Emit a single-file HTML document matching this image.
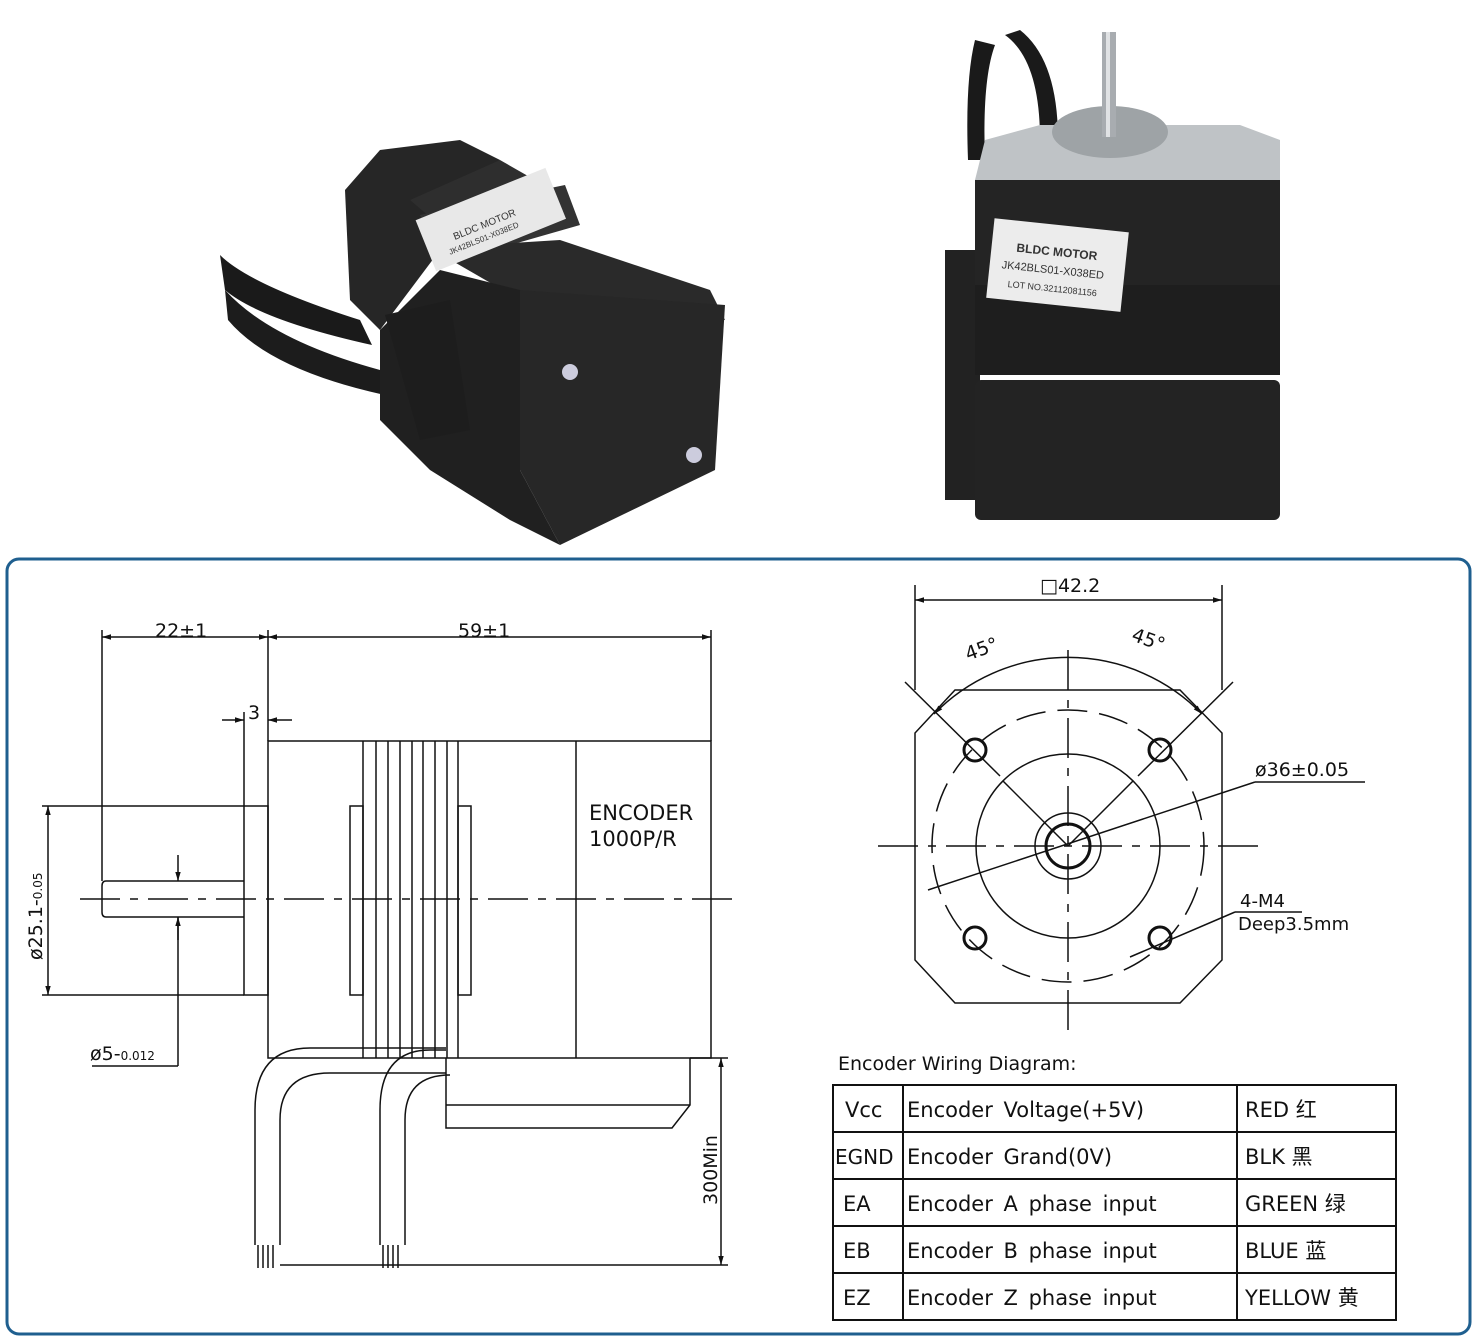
<!DOCTYPE html>
<html><head><meta charset="utf-8"><style>
html,body{margin:0;padding:0;background:#fff;}
svg{display:block;font-family:"Liberation Sans","Noto Sans CJK SC",sans-serif;}
.t{font-family:"DejaVu Sans","Liberation Sans","Noto Sans CJK SC",sans-serif;}
</style></head><body>
<svg width="1478" height="1339" viewBox="0 0 1478 1339" xmlns="http://www.w3.org/2000/svg">
<defs>
<marker id="a" viewBox="0 0 10 10" refX="10" refY="5" markerWidth="9" markerHeight="6" orient="auto-start-reverse"><path d="M0,2 L10,5 L0,8 Z" fill="#111"/></marker>
</defs>
<rect width="1478" height="1339" fill="#fff"/>
<!-- Left photo motor -->
<g>
<path d="M220,255 Q250,285 360,320 L372,345 Q260,320 225,290 Z" fill="#1a1a1a"/>
<path d="M225,290 Q270,340 380,370 L385,395 Q270,370 228,320 Z" fill="#1c1c1c"/>
<polygon points="345,190 380,150 460,140 500,160 440,250 380,330 350,300" fill="#262626"/>
<polygon points="410,200 500,160 570,200 480,260" fill="#2e2e2e"/>
<polygon points="420,215 565,185 580,225 440,265" fill="#333"/>
<polygon points="430,248 560,240 710,290 725,320 520,300" fill="#2a2a2a"/>
<polygon points="520,290 725,305 715,470 560,545 520,470" fill="#272727"/>
<polygon points="380,330 440,270 520,290 520,470 560,545 510,520 430,470 380,420" fill="#202020"/>
<polygon points="385,315 450,300 470,430 420,440" fill="#1d1d1d"/>
<rect x="421" y="192" width="140" height="55" fill="#e8e8e8" transform="rotate(-22 491 220)"/>
<text x="450" y="225" font-size="10" fill="#333" transform="rotate(-22 491 220)">BLDC MOTOR</text>
<text x="440" y="237" font-size="8" fill="#333" transform="rotate(-22 491 220)">JK42BLS01-X038ED</text>
<circle cx="570" cy="372" r="8" fill="#ccd"/><circle cx="694" cy="455" r="8" fill="#ccd"/>
</g>
<!-- Right photo motor -->
<g>
<path d="M975,40 Q965,80 968,160 L985,160 Q982,80 995,45 Z" fill="#1a1a1a"/>
<path d="M1005,35 Q1040,60 1040,140 L1058,140 Q1058,60 1020,30 Z" fill="#1a1a1a"/>
<polygon points="985,140 1040,125 1240,125 1280,140 1280,180 975,180" fill="#bfc3c6"/>
<ellipse cx="1110" cy="132" rx="58" ry="26" fill="#9ea3a6"/>
<rect x="1102" y="32" width="14" height="105" fill="#a8acb0"/>
<rect x="1106" y="32" width="4" height="105" fill="#e0e2e4"/>
<rect x="945" y="250" width="35" height="250" fill="#222"/>
<rect x="975" y="180" width="305" height="105" fill="#242424"/>
<rect x="975" y="285" width="305" height="90" fill="#1e1e1e"/>
<rect x="975" y="380" width="305" height="140" rx="6" fill="#232323"/>
<rect x="990" y="225" width="135" height="80" fill="#ececec" transform="rotate(6 1057 265)"/>
<text x="1015" y="256" font-size="12" font-weight="bold" fill="#333" transform="rotate(6 1057 265)">BLDC MOTOR</text>
<text x="1002" y="274" font-size="11" fill="#333" transform="rotate(6 1057 265)">JK42BLS01-X038ED</text>
<text x="1010" y="292" font-size="9" fill="#333" transform="rotate(6 1057 265)">LOT NO.32112081156</text>
</g>
<!-- Border -->
<rect x="7" y="559" width="1463" height="775" rx="12" fill="none" stroke="#1f5f8f" stroke-width="3"/>
<g fill="none" stroke="#111" stroke-width="1.5">
<line x1="102" y1="630" x2="102" y2="881"/>
<line x1="268" y1="630" x2="268" y2="741"/>
<line x1="711" y1="630" x2="711" y2="741"/>
<line x1="102" y1="637" x2="268" y2="637" marker-start="url(#a)" marker-end="url(#a)"/>
<line x1="268" y1="637" x2="711" y2="637" marker-start="url(#a)" marker-end="url(#a)"/>
<line x1="244" y1="712" x2="244" y2="806"/>
<line x1="222" y1="720" x2="244" y2="720" marker-end="url(#a)"/>
<line x1="292" y1="720" x2="268" y2="720" marker-end="url(#a)"/>
<rect x="268" y="741" width="443" height="317"/>
<rect x="244" y="806" width="24" height="189"/>
<path d="M244,881 L106,881 Q102,881 102,886 L102,912 Q102,917 106,917 L244,917"/>
<line x1="576" y1="741" x2="576" y2="1058"/>
<line x1="363" y1="741" x2="363" y2="1058"/>
<line x1="376" y1="741" x2="376" y2="1058"/>
<line x1="388" y1="741" x2="388" y2="1058"/>
<line x1="400" y1="741" x2="400" y2="1058"/>
<line x1="412" y1="741" x2="412" y2="1058"/>
<line x1="423" y1="741" x2="423" y2="1058"/>
<line x1="435" y1="741" x2="435" y2="1058"/>
<line x1="447" y1="741" x2="447" y2="1058"/>
<line x1="458" y1="741" x2="458" y2="1058"/>
<rect x="350" y="806" width="13" height="189"/>
<rect x="458" y="806" width="13" height="189"/>
<line x1="80" y1="899" x2="740" y2="899" stroke-dasharray="40,10,8,10"/>
<line x1="42" y1="806" x2="244" y2="806"/>
<line x1="42" y1="995" x2="244" y2="995"/>
<line x1="48" y1="806" x2="48" y2="995" marker-start="url(#a)" marker-end="url(#a)"/>
<line x1="178" y1="855" x2="178" y2="881" marker-end="url(#a)"/>
<line x1="178" y1="917" x2="178" y2="1066"/>
<line x1="178" y1="940" x2="178" y2="917" marker-end="url(#a)"/>
<line x1="92" y1="1066" x2="178" y2="1066"/>
<path d="M446,1058 L446,1128 L672,1128 L690,1105 L690,1058"/>
<line x1="446" y1="1105" x2="690" y2="1105"/>
<path d="M446,1048 L310,1048 Q255,1048 255,1110 L255,1245"/>
<path d="M446,1073 L330,1073 Q280,1073 280,1120 L280,1245"/>
<path d="M446,1050 L430,1050 Q380,1050 380,1110 L380,1245"/>
<path d="M446,1075 L450,1075 Q405,1075 405,1120 L405,1245"/>
<path d="M258,1245 L258,1268 M263,1245 L263,1268 M268,1245 L268,1268 M273,1245 L273,1268"/>
<path d="M383,1245 L383,1268 M388,1245 L388,1268 M393,1245 L393,1268 M398,1245 L398,1268"/>
<line x1="280" y1="1265" x2="728" y2="1265"/>
<line x1="690" y1="1058" x2="728" y2="1058"/>
<line x1="721" y1="1058" x2="721" y2="1265" marker-start="url(#a)" marker-end="url(#a)"/>
<!-- right view -->
<line x1="915" y1="585" x2="915" y2="690"/>
<line x1="1222" y1="585" x2="1222" y2="690"/>
<line x1="915" y1="600" x2="1222" y2="600" marker-start="url(#a)" marker-end="url(#a)"/>
<path d="M955,690 L1180,690 L1222,733 L1222,960 L1180,1003 L955,1003 L915,960 L915,733 Z"/>
<path d="M934,714 A187,187 0 0 1 1202,714" marker-start="url(#a)" marker-end="url(#a)"/>
<line x1="1068" y1="660" x2="1068" y2="660"/>
<line x1="905" y1="682" x2="1000" y2="776"/>
<line x1="1233" y1="682" x2="1138" y2="776"/>
<circle cx="1068" cy="846" r="136" stroke-dasharray="30,12"/>
<circle cx="1068" cy="846" r="92"/>
<circle cx="1068" cy="846" r="33"/>
<circle cx="1068" cy="846" r="22" stroke-width="3"/>
<line x1="878" y1="846" x2="1260" y2="846" stroke-dasharray="40,10,8,10"/>
<line x1="1068" y1="650" x2="1068" y2="1040" stroke-dasharray="40,10,8,10"/>
<line x1="1003" y1="781" x2="1068" y2="846"/>
<line x1="1133" y1="781" x2="1068" y2="846"/>
<line x1="928" y1="890" x2="1255" y2="782"/>
<line x1="1255" y1="782" x2="1365" y2="782"/>
<circle cx="975" cy="750" r="11" stroke-width="3"/>
<circle cx="1160" cy="750" r="11" stroke-width="3"/>
<circle cx="975" cy="938" r="11" stroke-width="3"/>
<circle cx="1160" cy="938" r="11" stroke-width="3"/>
<line x1="1130" y1="957" x2="1235" y2="912"/>
<line x1="1235" y1="912" x2="1302" y2="912"/>
</g>
<g class="t" fill="#111">
<text x="155" y="637" font-size="19">22±1</text>
<text x="458" y="637" font-size="19">59±1</text>
<text x="248" y="719" font-size="19">3</text>
<text x="589" y="820" font-size="21">ENCODER</text>
<text x="589" y="846" font-size="21">1000P/R</text>
<text x="0" y="0" font-size="19" transform="translate(42,960) rotate(-90)">ø25.1-<tspan font-size="12">0.05</tspan></text>
<text x="90" y="1060" font-size="19">ø5-<tspan font-size="12">0.012</tspan></text>
<text x="0" y="0" font-size="19" transform="translate(717,1205) rotate(-90)">300Min</text>
<text x="1040" y="592" font-size="19">□42.2</text>
<text x="965" y="656" font-size="19" transform="rotate(-20 980 650)">45°</text>
<text x="1130" y="647" font-size="19" transform="rotate(20 1150 645)">45°</text>
<text x="1255" y="776" font-size="19">ø36±0.05</text>
<text x="1240" y="907" font-size="18">4-M4</text>
<text x="1238" y="930" font-size="18">Deep3.5mm</text>
<text x="838" y="1070" font-size="19">Encoder Wiring Diagram:</text>
</g>
<g stroke="#111" stroke-width="2" fill="none">
<rect x="833" y="1085" width="563" height="235"/>
<line x1="833" y1="1132" x2="1396" y2="1132"/>
<line x1="833" y1="1179" x2="1396" y2="1179"/>
<line x1="833" y1="1226" x2="1396" y2="1226"/>
<line x1="833" y1="1273" x2="1396" y2="1273"/>
<line x1="903" y1="1085" x2="903" y2="1320"/>
<line x1="1237" y1="1085" x2="1237" y2="1320"/>
</g>
<g class="t" fill="#111" font-size="21">
<text x="845" y="1117">Vcc</text><text x="907" y="1117" word-spacing="4">Encoder Voltage(+5V)</text><text x="1245" y="1117">RED 红</text>
<text x="835" y="1164" font-size="20">EGND</text><text x="907" y="1164" word-spacing="4">Encoder Grand(0V)</text><text x="1245" y="1164">BLK 黑</text>
<text x="843" y="1211">EA</text><text x="907" y="1211" word-spacing="4">Encoder A phase input</text><text x="1245" y="1211">GREEN 绿</text>
<text x="843" y="1258">EB</text><text x="907" y="1258" word-spacing="4">Encoder B phase input</text><text x="1245" y="1258">BLUE 蓝</text>
<text x="843" y="1305">EZ</text><text x="907" y="1305" word-spacing="4">Encoder Z phase input</text><text x="1245" y="1305">YELLOW 黄</text>
</g>
</svg>
</body></html>
